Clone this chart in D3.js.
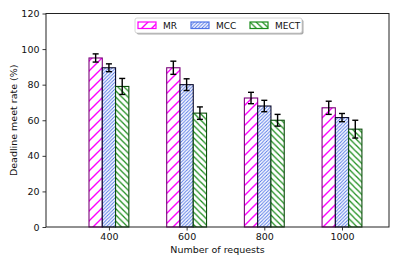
<!DOCTYPE html>
<html>
<head>
<meta charset="utf-8">
<script src="https://cdn.jsdelivr.net/npm/d3@7"></script>
<style>
  body { margin: 0; background: #fff; }
  text { font-family: "DejaVu Sans", sans-serif; fill: #111; }
</style>
</head>
<body>
<div id="chart"></div>
<script>
// data
const categories = ['400', '600', '800', '1000'];
const seriesNames = ['MR', 'MCC', 'MECT'];
const mrValues = [95, 89.5, 72.5, 67];
const mccValues = [89.5, 80, 68, 61.5];
const mectValues = [79, 64, 60, 55];
const mrErr = [2.3, 3.7, 3.2, 3.7];
const mccErr = [2.2, 3.3, 3.2, 2.3];
const mectErr = [4.5, 3.5, 3.3, 5];
const yTicks = [0, 20, 40, 60, 80, 100, 120];

const width = 399;
const height = 266;

const series = [
  { name: seriesNames[0], values: mrValues, err: mrErr, hatch: '#ff00ff', edge: '#7a007a', dir: 1, step: 10, lw: 1.35 },
  { name: seriesNames[1], values: mccValues, err: mccErr, hatch: '#4f74e6', edge: '#0a0a2a', dir: 1, step: 3.4, lw: 0.9 },
  { name: seriesNames[2], values: mectValues, err: mectErr, hatch: '#1a8c1a', edge: '#0b4d0b', dir: -1, step: 6.2, lw: 1.2 }
];

const svg = d3.select('#chart').append('svg')
  .attr('width', width)
  .attr('height', height);

const x = d3.scaleLinear()
  .domain([-0.81, 3.605])
  .range([46, 389]);

const y = d3.scaleLinear()
  .domain([0, 120])
  .range([227, 13.5]);

const barW = x(0.171) - x(0);

// hatch patterns
const defs = svg.append('defs');
series.forEach(function (s, i) {
  const st = s.step;
  const p = defs.append('pattern')
    .attr('id', 'hatch' + i)
    .attr('patternUnits', 'userSpaceOnUse')
    .attr('width', st)
    .attr('height', st);
  p.append('rect')
    .attr('width', st)
    .attr('height', st)
    .attr('fill', '#fff');
  const lines = s.dir > 0
    ? [[-st, st, st, -st], [0, st * 2, st * 2, 0], [0, st, st, 0]]
    : [[0, 0, st, st], [-st, 0, st, st * 2], [0, -st, st * 2, st]];
  lines.forEach(function (l) {
    p.append('line')
      .attr('x1', l[0]).attr('y1', l[1])
      .attr('x2', l[2]).attr('y2', l[3])
      .attr('stroke', s.hatch)
      .attr('stroke-width', s.lw);
  });
});

// bars
series.forEach(function (s, i) {
  const g = svg.append('g');
  g.selectAll('rect')
    .data(s.values)
    .enter()
    .append('rect')
    .attr('x', (d, j) => x(j) + (i - 1.5) * barW)
    .attr('y', d => y(d))
    .attr('width', barW)
    .attr('height', d => y(0) - y(d))
    .attr('fill', 'url(#hatch' + i + ')')
    .attr('stroke', s.edge)
    .attr('stroke-width', 1.1);

  // error bars
  const e = svg.append('g')
    .attr('stroke', '#000')
    .attr('stroke-width', 1.4);
  s.values.forEach(function (v, j) {
    const cx = x(j) + (i - 1) * barW;
    e.append('line')
      .attr('x1', cx).attr('x2', cx)
      .attr('y1', y(v - s.err[j])).attr('y2', y(v + s.err[j]));
    [v - s.err[j], v + s.err[j]].forEach(function (c) {
      e.append('line')
        .attr('x1', cx - 3).attr('x2', cx + 3)
        .attr('y1', y(c)).attr('y2', y(c));
    });
  });
});

// axes
const xAxis = svg.append('g')
  .attr('transform', 'translate(0,' + y(0) + ')')
  .call(d3.axisBottom(x).tickValues(d3.range(categories.length))
    .tickFormat((d, i) => categories[i]).tickSize(3.5).tickPadding(3));

const yAxis = svg.append('g')
  .attr('transform', 'translate(' + x.range()[0] + ',0)')
  .call(d3.axisLeft(y).tickValues(yTicks).tickSize(3.5).tickPadding(3));

[xAxis, yAxis].forEach(function (a) {
  a.select('.domain').remove();
  a.selectAll('text')
    .attr('font-size', 9.5)
    .attr('font-family', '"DejaVu Sans", sans-serif')
    .attr('fill', '#111');
  a.selectAll('line').attr('stroke', '#222').attr('stroke-width', 0.9);
});

// frame
svg.append('rect')
  .attr('x', x.range()[0])
  .attr('y', y.range()[1])
  .attr('width', x.range()[1] - x.range()[0])
  .attr('height', y.range()[0] - y.range()[1])
  .attr('fill', 'none')
  .attr('stroke', '#222')
  .attr('stroke-width', 1);

// axis titles
svg.append('text')
  .attr('x', (x.range()[0] + x.range()[1]) / 2)
  .attr('y', 253)
  .attr('text-anchor', 'middle')
  .attr('font-size', 9.5)
  .text('Number of requests');

svg.append('text')
  .attr('transform', 'translate(17,' + (y.range()[0] + y.range()[1]) / 2 + ') rotate(-90)')
  .attr('text-anchor', 'middle')
  .attr('font-size', 9.5)
  .text('Deadline meet rate (%)');

// legend
const legend = svg.append('g').attr('transform', 'translate(135,18)');
legend.append('rect')
  .attr('x', 1.5).attr('y', 1.5)
  .attr('width', 167).attr('height', 15)
  .attr('rx', 2)
  .attr('fill', '#aaa');
legend.append('rect')
  .attr('width', 167).attr('height', 15)
  .attr('rx', 2)
  .attr('fill', '#fff')
  .attr('stroke', '#ccc')
  .attr('stroke-width', 0.8);
const legendX = [3, 56, 115];
series.forEach(function (s, i) {
  const item = legend.append('g').attr('transform', 'translate(' + legendX[i] + ',4)');
  item.append('rect')
    .attr('width', 18).attr('height', 6.5)
    .attr('fill', 'url(#hatch' + i + ')')
    .attr('stroke', s.hatch)
    .attr('stroke-width', 1.2);
  item.append('text')
    .attr('x', 25).attr('y', 6.5)
    .attr('font-size', 9)
    .text(s.name);
});
</script>
</body>
</html>
